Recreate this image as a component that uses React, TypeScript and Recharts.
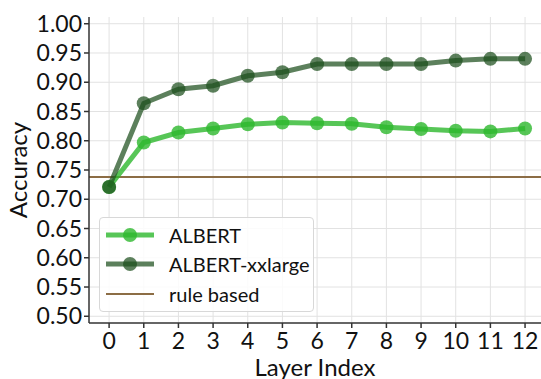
import { LineChart, Line, XAxis, YAxis, CartesianGrid, ReferenceLine, ReferenceArea } from 'recharts'

const layers = [0, 1, 2, 3, 4, 5, 6, 7, 8, 9, 10, 11, 12]
const albert = [0.721, 0.797, 0.814, 0.821, 0.828, 0.831, 0.83, 0.829, 0.823, 0.82, 0.817, 0.816, 0.821]
const albertXxl = [0.721, 0.864, 0.888, 0.894, 0.911, 0.917, 0.931, 0.931, 0.931, 0.931, 0.937, 0.94, 0.94]
const ruleBased = 0.738
const yTicks = [0.5, 0.55, 0.6, 0.65, 0.7, 0.75, 0.8, 0.85, 0.9, 0.95, 1.0]

const FONT = 'Lato, "DejaVu Sans", sans-serif'
const C_ALBERT = '#2db82d'
const C_XXL = '#1d4f1d'
const C_RULE = '#8c6d45'

const data = layers.map((l, i) => ({ layer: l, albert: albert[i], xxl: albertXxl[i] }))

// legend drawn as an overlay box like matplotlib's
const LegendBox = () => {
    const row = (label: string, color: string, op: number, marker: boolean, width: number) => (
        <div style={{ display: 'flex', alignItems: 'center', height: 29.5 }}>
            <svg width={60} height={20} style={{ marginLeft: 6 }}>
                <line x1={0} y1={10} x2={48} y2={10} stroke={color} strokeOpacity={op} strokeWidth={width} />
                {marker && <circle cx={24} cy={10} r={7} fill={color} fillOpacity={op} />}
            </svg>
            <span style={{ fontSize: 20, color: '#111', marginLeft: 3 }}>{label}</span>
        </div>
    )
    return (
        <div style={{
            position: 'absolute', left: 99, top: 217,
            width: 215, height: 95, border: '1px solid #d8d8d8', borderRadius: 4,
            background: 'rgba(255,255,255,0.85)', fontFamily: FONT, boxSizing: 'border-box', paddingTop: 2,
        }}>
            {row('ALBERT', C_ALBERT, 0.8, true, 5)}
            {row('ALBERT-xxlarge', C_XXL, 0.72, true, 5)}
            {row('rule based', C_RULE, 1, false, 2)}
        </div>
    )
}

const App = () => {
    return (
        <div style={{ position: 'absolute', left: 0, top: 0, width: 541, height: 379, overflow: 'hidden' }}>
            <LineChart width={541} height={379} data={data} margin={{ top: 17, right: 0, left: 0, bottom: 0 }}>
                <CartesianGrid stroke="#e2e2e2" strokeWidth={1} horizontalValues={yTicks} verticalValues={layers} />
                <XAxis
                    dataKey="layer"
                    type="number"
                    domain={[-0.58, 12.46]}
                    ticks={layers}
                    interval={0}
                    allowDataOverflow
                    height={56}
                    stroke="#333"
                    strokeWidth={1.5}
                    tickSize={5}
                    tick={{ fontSize: 23, fill: '#111', fontFamily: FONT, dy: 3 }}
                    label={{ value: 'Layer Index', position: 'insideBottom', offset: 0, fontSize: 24, fill: '#111', fontFamily: FONT, dy: -3 }}
                />
                <YAxis
                    type="number"
                    domain={[0.4885, 1.0115]}
                    ticks={yTicks}
                    interval={0}
                    allowDataOverflow
                    width={89}
                    stroke="#333"
                    strokeWidth={1.5}
                    tickSize={5}
                    tickFormatter={(v: number) => v.toFixed(2)}
                    tick={{ fontSize: 23, fill: '#111', fontFamily: FONT }}
                    label={{ value: 'Accuracy', angle: -90, position: 'insideLeft', offset: 18, fontSize: 24, fill: '#111', fontFamily: FONT, textAnchor: 'middle' }}
                />
                <ReferenceArea fill="none" stroke="#333" strokeWidth={1.5} ifOverflow="visible" />
                <ReferenceLine y={ruleBased} stroke={C_RULE} strokeWidth={2} />
                <Line
                    dataKey="albert"
                    stroke={C_ALBERT}
                    strokeOpacity={0.8}
                    strokeWidth={5}
                    dot={{ r: 7, fill: C_ALBERT, fillOpacity: 0.8, stroke: 'none' }}
                    isAnimationActive={false}
                />
                <Line
                    dataKey="xxl"
                    stroke={C_XXL}
                    strokeOpacity={0.72}
                    strokeWidth={5}
                    dot={{ r: 7, fill: C_XXL, fillOpacity: 0.72, stroke: 'none' }}
                    isAnimationActive={false}
                />
            </LineChart>
            <LegendBox />
        </div>
    )
}

export default App
